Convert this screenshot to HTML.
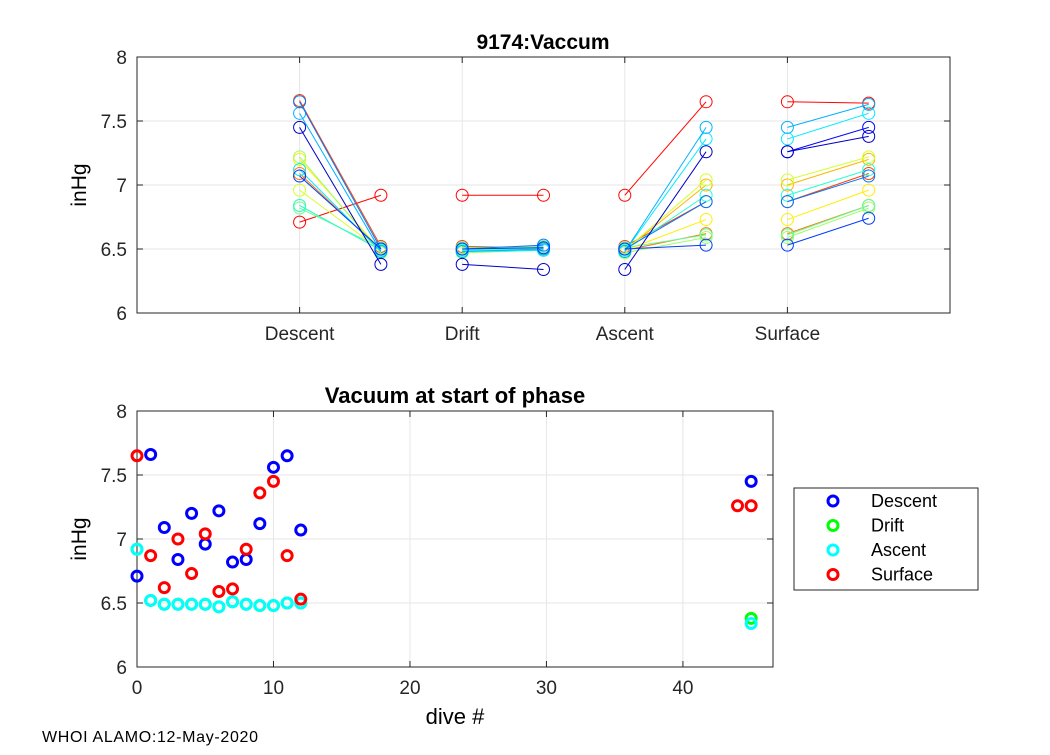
<!DOCTYPE html>
<html><head><meta charset="utf-8"><style>
body{margin:0;background:#fff;}
svg text{font-family:"Liberation Sans",Arial,sans-serif;}
</style></head><body>
<svg id="c" width="1050" height="750" xmlns="http://www.w3.org/2000/svg">
<rect width="1050" height="750" fill="#fff"/>
<g id="top"></g>
<g id="bot"></g>
<text x="42" y="742" font-size="16" textLength="216">WHOI ALAMO:12-May-2020</text>
</svg>
<script>
const dives=[0,1,2,3,4,5,6,7,8,9,10,11,12,44,45];
const descent=[6.71,7.66,7.09,6.84,7.20,6.96,7.22,6.82,6.84,7.12,7.56,7.65,7.07,null,7.45];
const drift=[6.92,6.52,6.49,6.49,6.49,6.49,6.47,6.51,6.49,6.48,6.48,6.50,6.50,null,6.38];
const ascent=[6.92,6.52,6.49,6.49,6.49,6.49,6.47,6.51,6.49,6.48,6.48,6.50,6.50,null,6.34];
const driftEnd=[6.92,6.51,6.50,6.50,6.52,6.50,6.49,6.52,6.50,6.49,6.50,6.53,6.51,null,6.34];
const surface=[7.65,6.87,6.62,7.00,6.73,7.04,6.59,6.61,6.92,7.36,7.45,6.87,6.53,7.26,7.26];
const surfaceEnd=[7.64,7.09,6.84,7.20,6.96,7.22,6.82,6.84,7.12,7.56,7.63,7.07,6.74,7.45,7.38];
const phases=["Descent","Drift","Ascent","Surface"];
const yTicks=[6,6.5,7,7.5,8];
const xTicksBot=[0,10,20,30,40];

const NS="http://www.w3.org/2000/svg";
function mk(p,t,a){const e=document.createElementNS(NS,t);for(const k in a)e.setAttribute(k,a[k]);p.appendChild(e);return e;}
function jet(t){const c=v=>Math.round(255*Math.max(0,Math.min(1,v)));return `rgb(${c(1.5-Math.abs(4*t-3))},${c(1.5-Math.abs(4*t-2))},${c(1.5-Math.abs(4*t-1))})`;}

function axes(g,L,T,R,B,ymap,xt,xmap,xlabels){
  for(const v of yTicks){const y=ymap(v);
    if(v>6&&v<8){const gl=mk(g,'line',{x1:L,x2:R,y1:y,y2:y,stroke:'#e6e6e6'});}
    const t=mk(g,'text',{x:L-10,y:y+7,'font-size':19,'text-anchor':'end',fill:'#262626'});t.textContent=v;
    
    mk(g,'line',{x1:L,x2:L+6,y1:y,y2:y,stroke:'#262626'});mk(g,'line',{x1:R,x2:R-6,y1:y,y2:y,stroke:'#262626'});}
  xt.forEach((v,i)=>{const x=xmap(v);
    if(x>L+1){const gl=mk(g,'line',{x1:x,x2:x,y1:T,y2:B,stroke:'#e6e6e6'});}
    const t=mk(g,'text',{x:x,y:B+27,'font-size':19,'text-anchor':'middle',fill:'#262626'});t.textContent=xlabels[i];
    
    mk(g,'line',{x1:x,x2:x,y1:B,y2:B-6,stroke:'#262626'});mk(g,'line',{x1:x,x2:x,y1:T,y2:T+6,stroke:'#262626'});});
  const r=mk(g,'rect',{x:L,y:T,width:R-L,height:B-T,fill:'none',stroke:'#262626'});
  
}

// top chart
const tg=document.getElementById('top');
const TL=137,TR=950,TT=57,TB=313;
const tx=v=>TL+(TR-TL)*v/5, ty=v=>TB-(TB-TT)*(v-6)/2;
axes(tg,TL,TT,TR,TB,ty,[1,2,3,4],tx,phases);
let t=mk(tg,'text',{x:543,y:49,'font-size':21,'font-weight':'bold','text-anchor':'middle'});t.textContent='9174:Vaccum';

t=mk(tg,'text',{x:86,y:185,'font-size':21,'text-anchor':'middle',transform:'rotate(-90 86 185)'});t.textContent='inHg';

const n=dives.length;
dives.forEach((d,i)=>{
  const col=jet(0.87-0.8*i/(n-1));
  const segs=[[descent[i],drift[i]],[drift[i],driftEnd[i]],[ascent[i],surface[i]],[surface[i],surfaceEnd[i]]];
  const g=mk(tg,'g',{});
  segs.forEach((s,k)=>{
    if(s[0]==null||s[1]==null)return;
    const x0=tx(k+1),x1=tx(k+1.5);
    mk(g,'line',{x1:x0,x2:x1,y1:ty(s[0]),y2:ty(s[1]),stroke:col,'stroke-width':1});
    mk(g,'circle',{cx:x0,cy:ty(s[0]),r:6,fill:'none',stroke:col});
    mk(g,'circle',{cx:x1,cy:ty(s[1]),r:6,fill:'none',stroke:col});
  });
});

// bottom chart
const bg=document.getElementById('bot');
const BL=137,BR=773,BT=411,BBt=667;
const bx=v=>BL+(BR-BL)*v/46.6, by=v=>BBt-(BBt-BT)*(v-6)/2;
axes(bg,BL,BT,BR,BBt,by,xTicksBot,bx,xTicksBot);
t=mk(bg,'text',{x:455,y:403,'font-size':22,'font-weight':'bold','text-anchor':'middle'});t.textContent='Vacuum at start of phase';

t=mk(bg,'text',{x:86,y:539,'font-size':21,'text-anchor':'middle',transform:'rotate(-90 86 539)'});t.textContent='inHg';

t=mk(bg,'text',{x:455,y:724,'font-size':22,'text-anchor':'middle'});t.textContent='dive #';

const series=[[descent,'#0000ff'],[drift,'#00ff00'],[ascent,'#00ffff'],[surface,'#ff0000']];
series.forEach((s,k)=>{
  const g=mk(bg,'g',{});
  dives.forEach((d,i)=>{if(s[0][i]==null)return;
    mk(g,'circle',{cx:bx(d),cy:by(s[0][i]),r:5,fill:'none',stroke:s[1],'stroke-width':3});});
});
// legend
const lg=mk(bg,'g',{});
mk(lg,'rect',{x:794,y:488,width:184,height:102,fill:'#fff',stroke:'#262626'});
series.forEach((s,k)=>{const y=501+k*24.5;
  const e=mk(lg,'g',{});
  mk(e,'circle',{cx:833,cy:y,r:5,fill:'none',stroke:s[1],'stroke-width':3});
  const tt=mk(e,'text',{x:871,y:y+6,'font-size':18});tt.textContent=phases[k];});
</script>
</body></html>
